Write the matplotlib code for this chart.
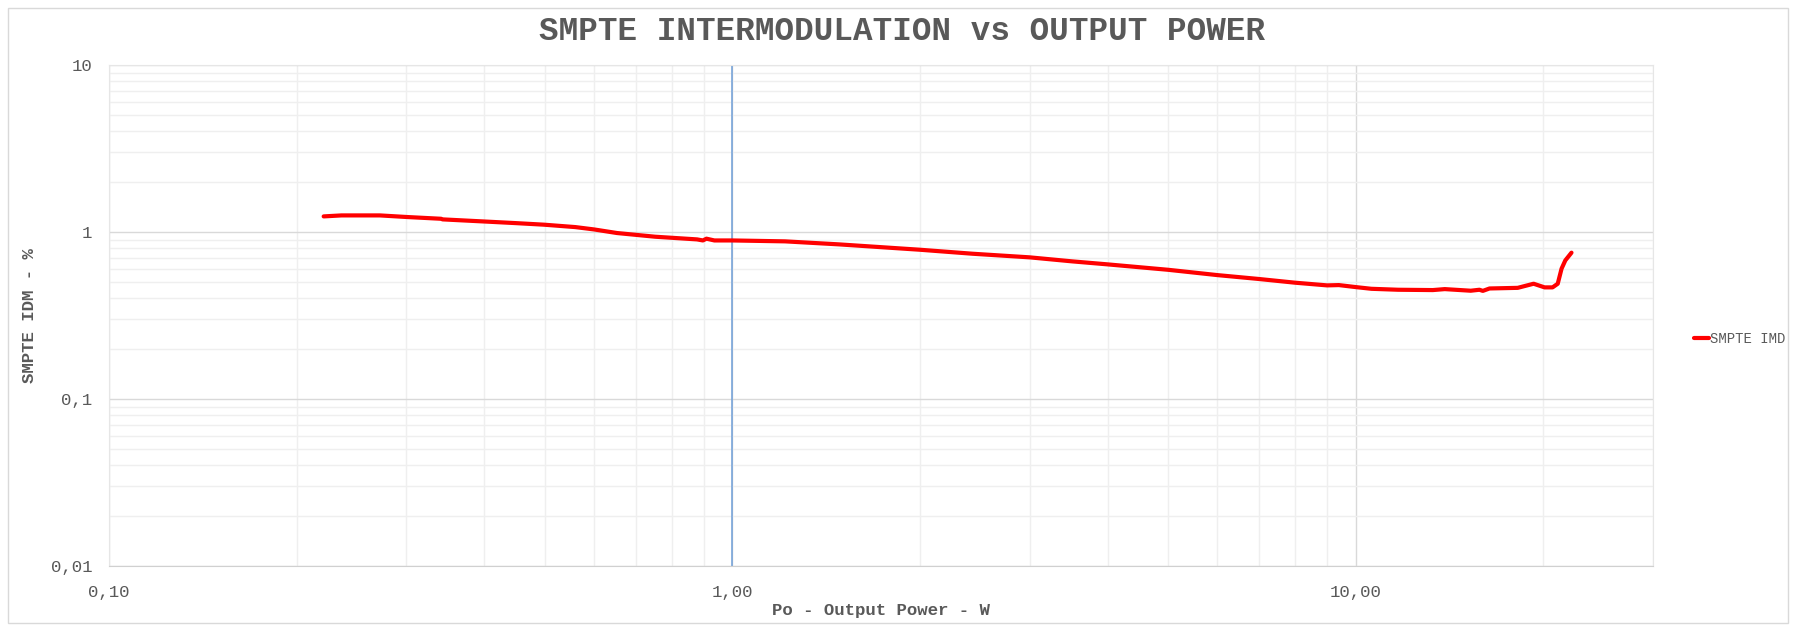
#!/usr/bin/env python3
"""SMPTE intermodulation distortion vs output power (log-log)."""

import matplotlib
matplotlib.use("Agg")
import matplotlib.pyplot as plt
from matplotlib.patches import Rectangle
from matplotlib.ticker import FixedLocator, LogLocator, NullFormatter

# Datos
power_w = [0.221, 0.236, 0.272, 0.30, 0.341, 0.343, 0.398, 0.45, 0.499, 0.56,
           0.60, 0.653, 0.752, 0.878, 0.897, 0.909, 0.936, 1.0, 1.215, 1.484,
           2.0, 2.43, 3.0, 3.51, 4.0, 5.0, 6.0, 7.0, 8.0, 9.0, 9.4, 10.0,
           10.6, 11.7, 13.3, 13.9, 15.3, 15.8, 16.0, 16.4, 18.2, 19.3, 20.1,
           20.7, 21.1, 21.4, 21.7, 22.2]
imd_pct = [1.24, 1.257, 1.257, 1.23, 1.20, 1.19, 1.157, 1.13, 1.106, 1.07,
           1.036, 0.986, 0.937, 0.903, 0.89, 0.912, 0.89, 0.89, 0.879, 0.843,
           0.783, 0.741, 0.705, 0.667, 0.640, 0.594, 0.552, 0.523, 0.497,
           0.479, 0.481, 0.468, 0.457, 0.451, 0.449, 0.455, 0.445, 0.451,
           0.444, 0.459, 0.463, 0.49, 0.466, 0.466, 0.49, 0.603, 0.676, 0.752]

x_ticks = [0.1, 1, 10]
x_labels = ["0,10", "1,00", "10,00"]
y_ticks = [0.01, 0.1, 1, 10]
y_labels = ["0,01", "0,1", "1", "10"]

TEXT = "#595959"
FONT = "Liberation Mono"

fig = plt.figure(figsize=(17.96, 6.27), dpi=100)
ax = fig.add_axes([109 / 1796, 1 - 566 / 627, (1653 - 109) / 1796, (566 - 65) / 627])

# marco del área del gráfico
fig.patches.append(Rectangle((8 / 1796, 4 / 627), 1780 / 1796, 615 / 627,
                             transform=fig.transFigure, fill=False,
                             edgecolor="#d9d9d9", linewidth=1))

ax.set_xscale("log")
ax.set_yscale("log")
ax.set_xlim(0.1, 30)
ax.set_ylim(0.01, 10)

ax.xaxis.set_major_locator(FixedLocator(x_ticks))
ax.yaxis.set_major_locator(FixedLocator(y_ticks))
ax.set_xticklabels(x_labels)
ax.set_yticklabels(y_labels)
ax.xaxis.set_minor_locator(LogLocator(base=10, subs=range(2, 10)))
ax.yaxis.set_minor_locator(LogLocator(base=10, subs=range(2, 10)))
ax.xaxis.set_minor_formatter(NullFormatter())
ax.yaxis.set_minor_formatter(NullFormatter())

ax.set_axisbelow(True)
ax.grid(which="major", color="#d9d9d9", linewidth=1)
ax.grid(which="minor", color="#efefef", linewidth=1)
ax.axvline(1, color="#6f9fd8", linewidth=1.1, zorder=2)

for side in ["top", "right", "left"]:
    ax.spines[side].set_color("#e6e6e6")
ax.spines["bottom"].set_color("#d0d0d0")

ax.tick_params(which="both", length=0)
ax.tick_params(axis="x", pad=14, labelsize=12.5, labelcolor=TEXT)
ax.tick_params(axis="y", pad=12, labelsize=12.5, labelcolor=TEXT)
for lab in ax.get_xticklabels() + ax.get_yticklabels():
    lab.set_fontfamily(FONT)

ax.plot(power_w, imd_pct, color="#ff0000", linewidth=3, label="SMPTE IMD",
        solid_capstyle="round", zorder=3)

fig.text(0.502, 1 - 32 / 627, "SMPTE INTERMODULATION vs OUTPUT POWER",
         ha="center", va="center", fontsize=23.5, fontweight="bold",
         color=TEXT, fontfamily=FONT)
fig.text((109 + 1653) / 2 / 1796, 1 - 610 / 627, "Po - Output Power - W",
         ha="center", va="center", fontsize=12.5, fontweight="bold",
         color=TEXT, fontfamily=FONT)
fig.text(30 / 1796, 1 - 316 / 627, "SMPTE IDM - %", rotation=90,
         ha="center", va="center", fontsize=12.5, fontweight="bold",
         color=TEXT, fontfamily=FONT)

leg = ax.legend(loc="center left", bbox_to_anchor=(1688 / 1796, 1 - 339 / 627),
                bbox_transform=fig.transFigure, frameon=False,
                handlelength=1.1, handletextpad=0.1, borderaxespad=0,
                prop={"family": FONT, "size": 10})
for t in leg.get_texts():
    t.set_color(TEXT)

fig.savefig("out.png", dpi=100, facecolor="white")
